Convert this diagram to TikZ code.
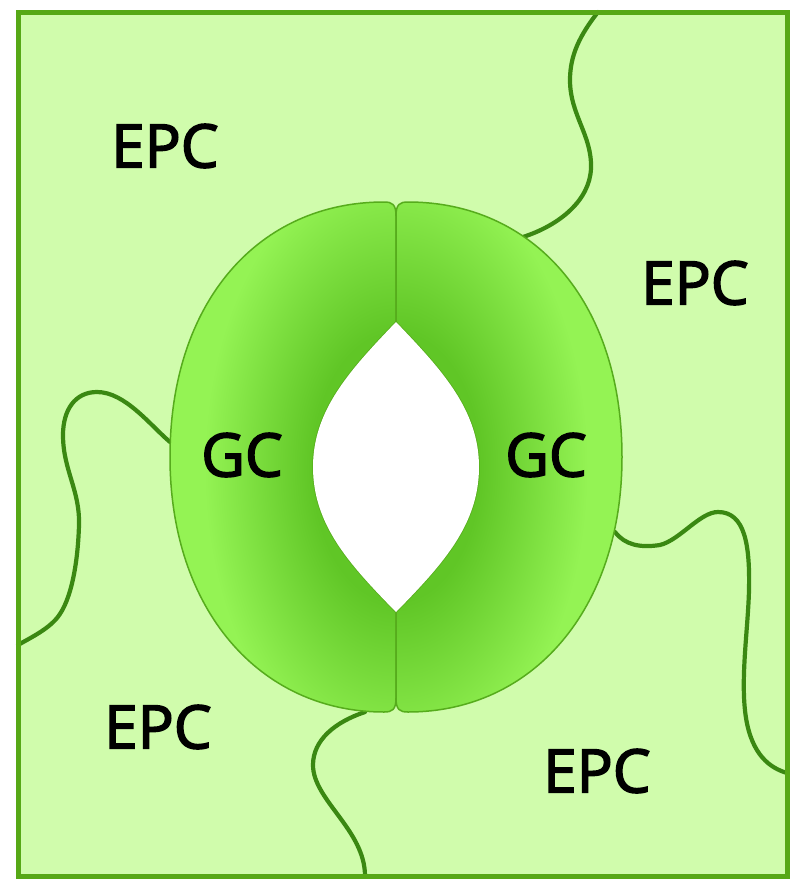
\documentclass[tikz,border=0pt]{standalone}
\usepackage{fontspec}
\setmainfont{Open Sans}
\newfontfamily\labelfont{Open Sans}[FakeBold=2.6]

\definecolor{epcfill}{RGB}{208,252,172}
\definecolor{epcborder}{RGB}{86,168,22}
\definecolor{wallline}{RGB}{58,136,18}
\definecolor{gcdark}{RGB}{96,198,38}
\definecolor{gclight}{RGB}{148,243,84}
\definecolor{gcline}{RGB}{86,172,28}

% darker towards the pore, light at the outer wall
\pgfdeclareradialshading{guardcell}{\pgfpoint{0bp}{0bp}}{%
  color(0bp)=(gcdark); color(7bp)=(gcdark);
  color(16bp)=(gclight); color(50bp)=(gclight)}

\tikzset{
  wall/.style={draw=wallline, line width=4.2pt, line cap=round},
  gcedge/.style={draw=gcline, line width=1.5pt},
  cellname/.style={font=\labelfont\fontsize{60}{72}\selectfont, inner sep=0pt},
}

% outlines of the two guard cells
\newcommand\leftgc{(396,322) -- (396,216) .. controls (396,204) and (392,202) .. (384,202)
  .. controls (260,202) and (170,300) .. (170,457)
  .. controls (170,610) and (260,712) .. (384,712)
  .. controls (392,712) and (396,710) .. (396,698) -- (396,612)
  .. controls (350,565) and (313,525) .. (313,467)
  .. controls (313,410) and (350,370) .. (396,322) -- cycle}
\newcommand\rightgc{(396,322) -- (396,216) .. controls (396,204) and (400,202) .. (408,202)
  .. controls (532,202) and (622,300) .. (622,457)
  .. controls (622,610) and (532,712) .. (408,712)
  .. controls (400,712) and (396,710) .. (396,698) -- (396,612)
  .. controls (442,565) and (479,525) .. (479,467)
  .. controls (479,410) and (442,370) .. (396,322) -- cycle}

\begin{document}
\begin{tikzpicture}[x=1pt, y=-1pt]
    \useasboundingbox (0,0) rectangle (791,879);

    % epidermis
    \fill[epcfill] (18,12) rectangle (787,876);

    % walls between the pavement cells
    \draw[wall] (598,12) .. controls (580,35) and (570,55) .. (570,80)
        .. controls (570,115) and (592,135) .. (591,168)
        .. controls (590,200) and (560,225) .. (523,237);
    \draw[wall] (170,442) .. controls (150,425) and (125,392) .. (97,392)
        .. controls (75,392) and (63,410) .. (63,435)
        .. controls (63,470) and (80,490) .. (79,525)
        .. controls (78,560) and (72,600) .. (57,618)
        .. controls (47,630) and (30,638) .. (18,645);
    \draw[wall] (365,712) .. controls (335,722) and (313,740) .. (313,765)
        .. controls (313,800) and (365,830) .. (365,876);
    \draw[wall] (615,532) .. controls (625,545) and (640,548) .. (660,545)
        .. controls (680,540) and (700,512) .. (718,512)
        .. controls (745,512) and (750,545) .. (749,590)
        .. controls (748,630) and (740,680) .. (746,718)
        .. controls (752,755) and (770,768) .. (787,773);

    % guard cells
    \begin{scope}
        \clip \leftgc;
        \shade[shading=guardcell] (396,467) ellipse [x radius=300, y radius=480];
    \end{scope}
    \begin{scope}
        \clip \rightgc;
        \shade[shading=guardcell] (396,467) ellipse [x radius=300, y radius=480];
    \end{scope}
    \path[gcedge] \leftgc;
    \path[gcedge] \rightgc;

    % pore
    \fill[white] (396,322) .. controls (350,370) and (313,410) .. (313,467)
        .. controls (313,525) and (350,565) .. (396,612)
        .. controls (442,565) and (479,525) .. (479,467)
        .. controls (479,410) and (442,370) .. (396,322) -- cycle;

    % frame
    \draw[epcborder, line width=5pt] (18,12) rectangle (787,876);

    % labels
    \node[cellname] (epc1) at (165,146) {EPC};
    \node[cellname] (epc2) at (695,283) {EPC};
    \node[cellname] (epc3) at (158,727) {EPC};
    \node[cellname] (epc4) at (597,771) {EPC};
    \node[cellname] (gc1) at (242,455) {GC};
    \node[cellname] (gc2) at (546,455) {GC};
\end{tikzpicture}
\end{document}
